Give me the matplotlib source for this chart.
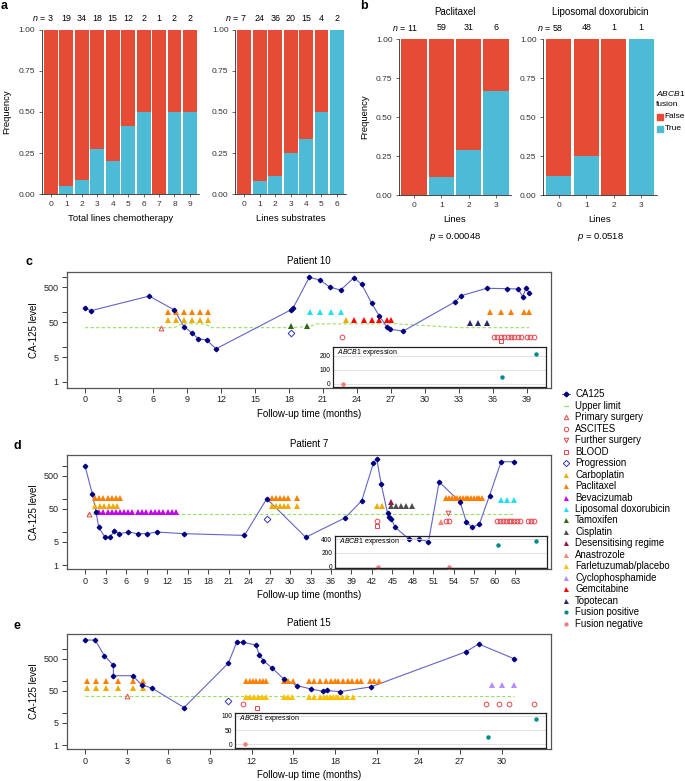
"""
ABCB1 fusion frequency (a, b) and CA-125 timelines for three patients (c-e)
"""
import numpy as np
import matplotlib.pyplot as plt

plt.rcParams['font.family'] = ['Liberation Sans', 'DejaVu Sans']
plt.rcParams['mathtext.fontset'] = 'custom'
plt.rcParams['mathtext.rm'] = 'Liberation Sans'
plt.rcParams['mathtext.it'] = 'Liberation Sans:italic'

# ------------------------------------------------------------
# Data: panels a and b (n per group, number with ABCB1 fusion)
# ------------------------------------------------------------
chemo_lines = [0, 1, 2, 3, 4, 5, 6, 7, 8, 9]
chemo_n = [3, 19, 34, 18, 15, 12, 2, 1, 2, 2]
chemo_fusion = [0, 1, 3, 5, 3, 5, 1, 0, 1, 1]

subs_lines = [0, 1, 2, 3, 4, 5, 6]
subs_n = [7, 24, 36, 20, 15, 4, 2]
subs_fusion = [0, 2, 4, 5, 5, 2, 2]

ptx_lines = [0, 1, 2, 3]
ptx_n = [11, 59, 31, 6]
ptx_fusion = [0, 7, 9, 4]

pld_lines = [0, 1, 2, 3]
pld_n = [58, 48, 1, 1]
pld_fusion = [7, 12, 0, 1]

# ------------------------------------------------------------
# Data: Patient 10 (c)
# ------------------------------------------------------------
p10_t = [0, 0.53, 5.67, 7.88, 8.74, 9.42, 10.0, 10.74, 11.56, 18.15, 18.38, 19.8,
         20.74, 21.62, 22.56, 23.74, 24.42, 25.3, 25.97, 26.63, 26.92, 28.09,
         32.68, 33.21, 35.45, 37.27, 38.24, 38.63, 38.95, 39.22]
p10_ca125 = [125, 107, 280, 112, 37, 25, 17, 15.5, 8.7, 112, 130, 960,
             805, 500, 417, 935, 606, 174, 76, 37.5, 31.5, 28,
             193, 287, 466, 455, 446, 269, 485, 336]
p10_limit_t = [0, 7.9, 8.5, 10.6, 11.2, 18.2, 19.8, 20.5, 27.5, 33.0, 39.2]
p10_limit = [35, 35, 45, 45, 35, 35, 38, 45, 45, 35, 35]
p10_events = {
    'Primary surgery': [6.7],
    'Paclitaxel': [7.35, 8.05, 8.75, 9.45, 10.15, 10.85, 35.75, 36.69, 37.6, 38.77, 39.22],
    'Carboplatin': [7.35, 8.05, 8.75, 9.45, 10.15, 10.85, 23.04],
    'Tamoxifen': [18.15, 19.6],
    'Progression': [18.15],
    'Liposomal doxorubicin': [19.86, 20.74, 21.69, 22.6],
    'Gemcitabine': [23.74, 24.62, 25.3, 25.97, 26.68, 26.98],
    'Topotecan': [33.98, 34.66, 35.45],
    'ASCITES': [22.65, 36.1, 36.4, 36.7, 37.0, 37.3, 37.6, 37.9, 38.2, 38.5, 39.0, 39.3, 39.6],
    'BLOOD': [36.7],
}
p10_levels = {'Primary surgery': 35, 'Paclitaxel': 100, 'Carboplatin': 59, 'Tamoxifen': 40,
              'Progression': 24, 'Liposomal doxorubicin': 97, 'Gemcitabine': 59,
              'Topotecan': 47, 'ASCITES': 19, 'BLOOD': 14.5}
p10_fus_pos_t = [36.8, 39.8]
p10_fus_pos = [50, 212]
p10_fus_neg_t = [22.8]
p10_fus_neg = [0]

# ------------------------------------------------------------
# Data: Patient 7 (d)
# ------------------------------------------------------------
p7_t = [0, 1.07, 1.61, 2.0, 2.93, 3.66, 4.29, 5.02, 6.34, 7.71, 9.13, 10.49, 14.49,
        23.33, 26.6, 32.3, 38.07, 40.5, 42.2, 42.7, 43.34, 44.27, 44.56, 44.8, 45.39,
        47.44, 48.9, 50.27, 51.83, 54.9, 55.8, 56.6, 57.7, 59.2, 60.9, 62.8]
p7_ca125 = [1000, 141, 41, 14, 6.9, 6.9, 11, 8.9, 10, 8.9, 8.9, 10, 8.9,
            7.9, 102, 6.9, 27, 89, 1210, 1630, 290, 37, 29, 25, 14,
            6, 6, 5.1, 330, 81, 20.5, 14, 17, 126, 1350, 1350]
p7_limit_t = [0.3, 62.8]
p7_limit = [35, 35]
p7_events = {
    'Primary surgery': [0.63],
    'Paclitaxel': [1.5, 2.1, 2.7, 3.3, 3.9, 4.5, 5.1, 27.3, 27.9, 28.5, 29.1, 29.7, 31.0,
                   52.9, 53.3, 53.7, 54.1, 54.5, 54.9, 55.3, 55.7, 56.1, 56.5, 56.9, 57.3, 57.7, 58.1],
    'Carboplatin': [1.5, 2.15, 2.8, 3.45, 4.1, 4.75, 27.3, 27.9, 28.5, 29.1, 29.7, 31.0, 42.8, 43.4],
    'Bevacizumab': [2.1, 2.7, 3.3, 3.9, 4.5, 5.1, 5.7, 6.3, 6.9, 7.7, 8.33, 8.96, 9.59,
                    10.22, 10.85, 11.48, 12.11, 12.74, 13.37],
    'Progression': [26.6],
    'Cisplatin': [44.8, 45.5, 46.3, 47.0, 47.8],
    'Desensitising regime': [44.8],
    'ASCITES': [42.7, 52.9, 53.3, 60.3, 60.72, 61.14, 61.56, 61.98, 62.4, 62.82, 63.24,
                63.66, 64.8, 65.3, 65.7],
    'BLOOD': [42.8],
    'Anastrozole': [52.1],
    'Further surgery': [53.1],
    'Liposomal doxorubicin': [60.9, 61.8, 62.8],
}
p7_levels = {'Primary surgery': 35, 'Paclitaxel': 105, 'Carboplatin': 63, 'Bevacizumab': 41,
             'Progression': 24.5, 'Cisplatin': 63, 'Desensitising regime': 83, 'ASCITES': 21,
             'BLOOD': 15, 'Anastrozole': 20, 'Further surgery': 37, 'Liposomal doxorubicin': 94}
p7_fus_pos_t = [60.4, 66.0]
p7_fus_pos = [317, 375]
p7_fus_neg_t = [42.95, 53.3]
p7_fus_neg = [0, 0]

# ------------------------------------------------------------
# Data: Patient 15 (e)
# ------------------------------------------------------------
p15_t = [0, 0.72, 1.39, 2.04, 2.04, 3.43, 4.08, 4.8, 7.13, 10.32, 10.92, 11.35, 12.31,
         12.55, 12.84, 13.49, 14.33, 15.28, 16.25, 17.11, 17.4, 18.36, 20.59, 27.4, 28.34, 30.88]
p15_ca125 = [1900, 1900, 620, 310, 147, 147, 76, 61, 15, 365, 1620, 1620, 1330,
             635, 435, 250, 114, 72, 57, 48, 51, 47, 66, 810, 1430, 500]
p15_limit_t = [0, 30.9]
p15_limit = [35, 35]
p15_events = {
    'Paclitaxel': [0.12, 0.79, 1.49, 2.35, 3.48, 4.2, 11.62, 11.86, 12.1, 12.33, 12.57, 12.8,
                   13.04, 14.32, 14.64, 14.96, 16.12, 16.5, 16.89, 17.35, 17.68, 18.0, 18.24,
                   18.6, 18.96, 19.21, 19.55, 19.9, 20.49, 20.84, 21.19],
    'Carboplatin': [0.12, 0.79, 1.49, 2.35, 3.48, 4.2],
    'Farletuzumab/placebo': [11.62, 11.9, 12.18, 12.46, 12.74, 13.02, 14.32, 14.62, 14.92,
                             16.12, 16.5, 16.89, 17.2, 17.41, 17.62, 17.83, 18.05, 18.18,
                             18.52, 18.87, 19.28],
    'Primary surgery': [3.05],
    'Progression': [10.32],
    'ASCITES': [11.4, 28.9, 29.8, 30.5, 32.3],
    'BLOOD': [12.4],
    'Cyclophosphamide': [29.3, 30.0, 30.9],
}
p15_levels = {'Paclitaxel': 100, 'Carboplatin': 62, 'Farletuzumab/placebo': 33,
              'Primary surgery': 35, 'Progression': 24, 'ASCITES': 20, 'BLOOD': 15,
              'Cyclophosphamide': 76}
p15_fus_pos_t = [29.0, 32.5]
p15_fus_pos = [27, 88]
p15_fus_neg_t = [11.5]
p15_fus_neg = [0]

# ------------------------------------------------------------
# Styles
# ------------------------------------------------------------
RED = '#E64B35'
BLUE = '#4DBBD5'
SURG = '#E0474C'
STYLE = {  # marker, colour, filled
    'Primary surgery': ('^', SURG, False),
    'ASCITES': ('o', SURG, False),
    'Further surgery': ('v', SURG, False),
    'BLOOD': ('s', SURG, False),
    'Progression': ('D', '#3333BB', False),
    'Carboplatin': ('^', '#F0AA00', True),
    'Paclitaxel': ('^', '#FF7F00', True),
    'Bevacizumab': ('^', '#C400F0', True),
    'Liposomal doxorubicin': ('^', '#22E0F0', True),
    'Tamoxifen': ('^', '#2E6B0E', True),
    'Cisplatin': ('^', '#4D4D4D', True),
    'Desensitising regime': ('^', '#8B1C4B', True),
    'Anastrozole': ('^', '#F4877A', True),
    'Farletuzumab/placebo': ('^', '#FFC000', True),
    'Cyclophosphamide': ('^', '#B68CFF', True),
    'Gemcitabine': ('^', '#FF0000', True),
    'Topotecan': ('^', '#28266E', True),
    'Fusion positive': ('o', '#008B8B', True),
    'Fusion negative': ('o', '#F47A7A', True),
}
LINE_COL = '#6464C8'
PT_COL = '#000080'
LIM_COL = '#99DD66'

W, H = 685, 781
fig = plt.figure(figsize=(W / 100, H / 100), dpi=100)


def px_axes(x0, y0, x1, y1, **kw):
    return fig.add_axes([x0 / W, 1 - y1 / H, (x1 - x0) / W, (y1 - y0) / H], **kw)


def fig_text(x, y, s, **kw):
    fig.text(x / W, 1 - y / H, s, **kw)


# ============================================================
# Panels a and b: stacked frequency bars
# ============================================================
def fusion_bars(ax, lines, n, fusion, pad, width, xlabel, ylabel=True, title=None, pval=None):
    frac = np.array(fusion) / np.array(n)
    ax.bar(lines, frac, width=width, color=BLUE, linewidth=0)
    ax.bar(lines, 1 - frac, bottom=frac, width=width, color=RED, linewidth=0)
    ax.set_xlim(-pad, len(lines) - 1 + pad)
    ax.set_ylim(0, 1)
    for s in ['top', 'right']:
        ax.spines[s].set_visible(False)
    for s in ['left', 'bottom']:
        ax.spines[s].set_linewidth(0.5)
    ax.set_yticks([0, 0.25, 0.5, 0.75, 1.0])
    ax.set_yticklabels(['0.00', '0.25', '0.50', '0.75', '1.00'])
    ax.set_xticks(lines)
    ax.tick_params(labelsize=6, length=2.2, width=0.5, pad=2.5, colors='#333333')
    ax.set_xlabel(xlabel, fontsize=6.8, labelpad=4.5)
    if ylabel:
        ax.set_ylabel('Frequency', fontsize=6.8, labelpad=5)
    for i, v in zip(lines[1:], n[1:]):
        ax.annotate(str(v), xy=(i, 1), xycoords=('data', 'axes fraction'), xytext=(0, 8.2),
                    textcoords='offset points', ha='center', va='center', fontsize=6.4)
    half = len(str(n[0])) * 0.556 * 6.4 / 2
    ax.annotate(r'$n$ = ' + str(n[0]), xy=(lines[0], 1), xycoords=('data', 'axes fraction'),
                xytext=(half, 8.2), textcoords='offset points', ha='right', va='center',
                fontsize=6.4)
    if title:
        ax.annotate(title, xy=(0.5, 1), xycoords='axes fraction', xytext=(0, 19.5),
                    textcoords='offset points', ha='center', va='center', fontsize=7)
    if pval:
        ax.annotate(r'$p$ = ' + pval, xy=(0.5, 0), xycoords='axes fraction', xytext=(0, -30.5),
                    textcoords='offset points', ha='center', va='center', fontsize=6.8)


ax = px_axes(41.7, 29.5, 199.2, 194.3)
fusion_bars(ax, chemo_lines, chemo_n, chemo_fusion, 0.6, 0.9, 'Total lines chemotherapy')
ax = px_axes(235, 29.5, 346.2, 194.3)
fusion_bars(ax, subs_lines, subs_n, subs_fusion, 0.6, 0.9, 'Lines substrates', ylabel=False)
ax = px_axes(399, 39.3, 511, 195)
fusion_bars(ax, ptx_lines, ptx_n, ptx_fusion, 0.55, 0.92, 'Lines', title='Paclitaxel', pval='0.00048')
ax = px_axes(543, 39.3, 657, 195)
fusion_bars(ax, pld_lines, pld_n, pld_fusion, 0.58, 0.92, 'Lines', ylabel=False,
            title='Liposomal doxorubicin', pval='0.0518')

# legend for b, squeezed against the right edge
fig_text(656, 94, r'$ABCB1$', fontsize=6.0, va='center')
fig_text(656, 105, 'fusion', fontsize=6.0, va='center')
for yy, col, lab in [(117, RED, 'False'), (128.5, BLUE, 'True')]:
    fig.patches.append(plt.Rectangle((656.5 / W, 1 - (yy + 3) / H), 6 / W, 6 / H,
                                     color=col, transform=fig.transFigure, figure=fig))
    fig_text(664.5, yy, lab, fontsize=6.0, va='center')

fig_text(1, 6, 'a', fontsize=9, fontweight='bold', va='center')
fig_text(360, 6, 'b', fontsize=9, fontweight='bold', va='center')


# ============================================================
# Panels c-e: CA-125 timelines
# ============================================================
def timeline(box, xlim, ylim, xmax, title, t, ca, lim_t, lim_v, events, levels,
             ibox, iylim, iticks, pos_t, pos_v, neg_t, neg_v):
    ax = px_axes(*box)
    ax.set_yscale('log')
    ax.plot(lim_t, lim_v, color=LIM_COL, lw=0.8, dashes=(3, 2), zorder=1)
    ax.plot(t, ca, color=LINE_COL, lw=0.8, zorder=2)
    ax.plot(t, ca, 'D', color=PT_COL, ms=2.3, zorder=4)
    for name, times in events.items():
        mk, col, filled = STYLE[name]
        lv = [levels[name]] * len(times)
        if filled:
            ax.plot(times, lv, mk, color=col, ms=3.8, mew=0, zorder=3, ls='none')
        else:
            ax.plot(times, lv, mk, mfc='none', mec=col, ms=3.4, mew=0.7, zorder=3, ls='none')
    ax.set_xlim(*xlim)
    ax.set_ylim(*ylim)
    ax.set_xticks(np.arange(0, xmax + 1, 3))
    ax.set_yticks([1, 5, 10, 50, 100, 500, 1000])
    ax.set_yticklabels(['1', '5', '', '50', '', '500', ''])
    ax.yaxis.set_minor_locator(plt.NullLocator())
    ax.tick_params(labelsize=6.5, length=3.5, width=0.6, pad=2, colors='#222222')
    ax.tick_params(axis='y', pad=2.8)
    for s in ax.spines.values():
        s.set_linewidth(0.9)
        s.set_color('#555555')
    ax.set_xlabel('Follow-up time (months)', fontsize=7, labelpad=3.5)
    ax.set_ylabel('CA-125 level', fontsize=7, labelpad=3)
    ax.set_title(title, fontsize=7, pad=6)

    # inset with ABCB1 expression, sharing the month scale
    span = (xlim[1] - xlim[0]) / (box[2] - box[0])
    ix = (xlim[0] + (ibox[0] - box[0]) * span, xlim[0] + (ibox[2] - box[0]) * span)
    ai = px_axes(*ibox)
    ai.set_facecolor('none')
    ai.set_xlim(*ix)
    ai.set_ylim(*iylim)
    ai.set_yticks(iticks)
    ai.set_xticks([])
    ai.yaxis.grid(True, color='#DDDDDD', lw=0.6)
    ai.set_axisbelow(True)
    ai.tick_params(labelsize=4.8, length=0, pad=2)
    for s in ai.spines.values():
        s.set_linewidth(0.9)
        s.set_color('#222222')
    ai.plot(pos_t, pos_v, 'o', color=STYLE['Fusion positive'][1], ms=3.2, mew=0)
    ai.plot(neg_t, neg_v, 'o', color=STYLE['Fusion negative'][1], ms=3.2, mew=0, clip_on=False)
    ai.annotate(r'$ABCB1$ expression', xy=(0, 1), xycoords='axes fraction', xytext=(3, -4),
                textcoords='offset points', ha='left', va='center', fontsize=5)
    return ax


timeline((67, 272, 551, 387.5), (-1.59, 41.13), (0.683, 1362), 39, 'Patient 10',
         p10_t, p10_ca125, p10_limit_t, p10_limit, p10_events, p10_levels,
         (333, 347, 546, 386.5), (-18, 264), [0, 100, 200],
         p10_fus_pos_t, p10_fus_pos, p10_fus_neg_t, p10_fus_neg)
timeline((67, 455, 551, 569), (-2.64, 68.2), (0.757, 2154), 63, 'Patient 7',
         p7_t, p7_ca125, p7_limit_t, p7_limit, p7_events, p7_levels,
         (335, 536, 547, 568), (-19, 448), [0, 200, 400],
         p7_fus_pos_t, p7_fus_pos, p7_fus_neg_t, p7_fus_neg)
timeline((67, 634, 551, 749), (-1.3, 33.55), (0.767, 2930), 30, 'Patient 15',
         p15_t, p15_ca125, p15_limit_t, p15_limit, p15_events, p15_levels,
         (235, 713, 546, 747.5), (-11, 110), [0, 50, 100],
         p15_fus_pos_t, p15_fus_pos, p15_fus_neg_t, p15_fus_neg)

fig_text(26, 262, 'c', fontsize=9, fontweight='bold', va='center')
fig_text(14, 446, 'd', fontsize=9, fontweight='bold', va='center')
fig_text(14, 626, 'e', fontsize=9, fontweight='bold', va='center')

# ------------------------------------------------------------
# Shared legend for c-e
# ------------------------------------------------------------
legend_labels = ['CA125', 'Upper limit', 'Primary surgery', 'ASCITES', 'Further surgery',
                 'BLOOD', 'Progression', 'Carboplatin', 'Paclitaxel', 'Bevacizumab',
                 'Liposomal doxorubicin', 'Tamoxifen', 'Cisplatin', 'Desensitising regime',
                 'Anastrozole', 'Farletuzumab/placebo', 'Cyclophosphamide', 'Gemcitabine',
                 'Topotecan', 'Fusion positive', 'Fusion negative']
lg = px_axes(556, 388, 685, 630)
lg.set_xlim(556, 685)
lg.set_ylim(20.55, -0.55)
lg.axis('off')
for k, lab in enumerate(legend_labels):
    if lab == 'CA125':
        lg.plot([562, 570], [k, k], color=LINE_COL, lw=0.8)
        lg.plot([566], [k], 'D', color=PT_COL, ms=2.4)
    elif lab == 'Upper limit':
        lg.plot([564, 568], [k, k], color=LIM_COL, lw=0.9)
    else:
        mk, col, filled = STYLE[lab]
        if filled:
            lg.plot([566], [k], mk, color=col, ms=3.6 if mk == '^' else 3.0, mew=0)
        else:
            lg.plot([566], [k], mk, mfc='none', mec=col, ms=3.2, mew=0.7)
    lg.text(575, k, lab, fontsize=6.9, va='center', ha='left')

fig.savefig('out.png', dpi=100)
